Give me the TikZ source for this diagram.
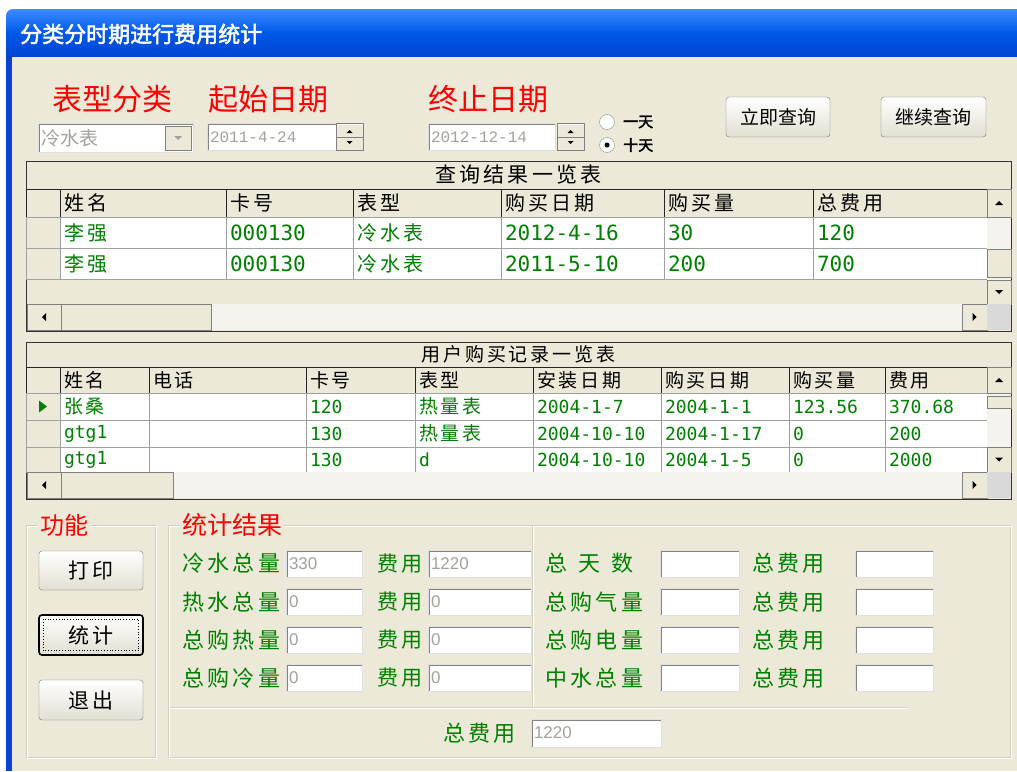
\documentclass[tikz,border=0pt]{standalone}
\usepackage{fontspec}
\usetikzlibrary{positioning}
\newfontfamily\cjk{Noto Sans CJK SC}
\newfontfamily\cjkwide[LetterSpace=15]{Noto Sans CJK SC}
\newfontfamily\cjkbold[FakeBold=2.5]{Noto Sans CJK SC}
\newfontfamily\datefont{Liberation Mono}
\newfontfamily\boxfont{Liberation Sans}
\newfontfamily\numfont{DejaVu Sans Mono}
\definecolor{winbg}{HTML}{ECE9D8}
\definecolor{xptop}{HTML}{3A8CFF}
\definecolor{xpmid}{HTML}{0058EA}
\definecolor{xpbot}{HTML}{0043D2}
\definecolor{xpedge}{HTML}{0A40D6}
\definecolor{okgreen}{RGB}{0,128,0}
\definecolor{offgrey}{HTML}{A3A29A}
\definecolor{gridgrey}{HTML}{A0A0A0}
\definecolor{groupline}{HTML}{D0D0BF}
\definecolor{trackbg}{HTML}{F4F3EE}
\definecolor{fieldedge}{HTML}{85837A}
\definecolor{btnbot}{HTML}{E2DFD2}

\tikzset{
  redlbl/.style={text=red, font=\cjk\fontsize{30}{32}\selectfont, inner sep=0pt, anchor=west},
  grnlbl/.style={text=okgreen, font=\cjkwide\fontsize{22}{24}\selectfont, inner sep=0pt, anchor=west},
  field/.style={fill=white, draw=white!88!black, outer sep=0pt, inner xsep=3pt, inner ysep=0pt,
    text width=#1-6pt, align=left, minimum height=27pt, anchor=west, text=offgrey,
    font=\boxfont\fontsize{17}{18}\selectfont,
    path picture={\draw[fieldedge, line width=3pt] (path picture bounding box.south west) |- (path picture bounding box.north east);}},
  raised/.style={fill=winbg, draw=black!50, outer sep=0pt, inner sep=0pt,
    path picture={\draw[white, line width=2.5pt] (path picture bounding box.south west) |- (path picture bounding box.north east);}},
  track/.style={fill=trackbg, outer sep=0pt, inner sep=0pt},
  xpbtn/.style={rounded corners=3pt, draw=black!55, top color=white, bottom color=btnbot, inner sep=0pt,
    font=\cjk\fontsize{19}{21}\selectfont},
  cell/.style={outer sep=0pt, inner xsep=4pt, inner ysep=0pt, text width=#1-8pt, align=left},
  hcell/.style={cell=#1, draw=black!85, fill=winbg, text=black},
  dcell/.style={cell=#1, draw=gridgrey, fill=white, text=okgreen},
  icell/.style={cell=34pt, draw=gridgrey, fill=winbg},
  numa/.style={font=\numfont\fontsize{21}{22}\selectfont},
  numb/.style={font=\numfont\fontsize{18}{20}\selectfont},
  radio/.style={circle, draw=black!45, fill=white, minimum size=15pt, inner sep=0pt},
  frame/.style={draw=black!80, fill=winbg, inner sep=0pt, outer sep=0pt, anchor=north west}
}

\begin{document}
\begin{tikzpicture}[x=1pt,y=-1pt]
\useasboundingbox (0,0) rectangle (1017,771);
\fill[white] (0,0) rectangle (1017,771);

% window
\shade[top color=xptop, bottom color=xpbot, middle color=xpmid] (6,57) [rounded corners=7pt] -- (6,9) [sharp corners] -- (1017,9) -- (1017,57) -- cycle;
\fill[xpedge] (6,57) rectangle (12,771);
\fill[winbg] (12,57) rectangle (1017,771);
\node (title) [anchor=west, inner sep=0pt, text=white, font=\cjkbold\fontsize{22}{24}\selectfont] at (20,34) {分类分时期进行费用统计};

% query bar
\node (typelbl) [redlbl] at (52,99) {表型分类};
\node (fromlbl) [redlbl] at (208,99) {起始日期};
\node (tolbl) [redlbl] at (428,99) {终止日期};

\node (typebox) [field=155pt, minimum height=29pt, font=\cjk\fontsize{19}{20}\selectfont] at (38,138) {冷水表};
\node (typebtn) [raised, minimum width=26pt, minimum height=24pt, anchor=east] at ([xshift=-2pt]typebox.east) {};
\fill[offgrey] ([xshift=-4pt,yshift=2pt]typebtn.center) -- ([xshift=4pt,yshift=2pt]typebtn.center) -- ([yshift=-2pt]typebtn.center) -- cycle;

\node (fromdate) [field=129pt, font=\datefont\fontsize{16}{18}\selectfont] at (207,137) {2011-4-24};
\node (fromspin) [raised, minimum width=27pt, minimum height=27pt, anchor=west] at (fromdate.east) {};
\draw[black!50] (fromspin.west) -- (fromspin.east);
\fill ([xshift=-3pt,yshift=4pt]fromspin.center) -- ([xshift=3pt,yshift=4pt]fromspin.center) -- ([yshift=7pt]fromspin.center) -- cycle;
\fill ([xshift=-3pt,yshift=-4pt]fromspin.center) -- ([xshift=3pt,yshift=-4pt]fromspin.center) -- ([yshift=-7pt]fromspin.center) -- cycle;

\node (todate) [field=127pt, font=\datefont\fontsize{16}{18}\selectfont] at (428,137) {2012-12-14};
\node (tospin) [raised, minimum width=27pt, minimum height=27pt, anchor=west] at ([xshift=2pt]todate.east) {};
\draw[black!50] (tospin.west) -- (tospin.east);
\fill ([xshift=-3pt,yshift=4pt]tospin.center) -- ([xshift=3pt,yshift=4pt]tospin.center) -- ([yshift=7pt]tospin.center) -- cycle;
\fill ([xshift=-3pt,yshift=-4pt]tospin.center) -- ([xshift=3pt,yshift=-4pt]tospin.center) -- ([yshift=-7pt]tospin.center) -- cycle;

\node (oneday) [radio] at (607,122) {};
\node (tenday) [radio] at (607,145) {};
\fill (tenday.center) circle (2.5pt);
\node (onedaylbl) [anchor=west, inner sep=0pt, font=\cjkbold\fontsize{15}{16}\selectfont] at (623,122) {一天};
\node (tendaylbl) [anchor=west, inner sep=0pt, font=\cjkbold\fontsize{15}{16}\selectfont] at (623,145) {十天};

\node (querynow) [xpbtn, minimum width=104pt, minimum height=40pt] at (778,117) {立即查询};
\node (querymore) [xpbtn, minimum width=105pt, minimum height=40pt] at (933.5,117) {继续查询};

% result table
\node (resframe) [frame, minimum width=985pt, minimum height=170pt] at (26,161) {};
\node (restitle) [frame, minimum width=985pt, minimum height=28pt, font=\cjkwide\fontsize{21}{22}\selectfont] at (26,161) {查询结果一览表};
\begin{scope}[minimum height=28pt, font=\cjkwide\fontsize{20}{22}\selectfont]
\node (rhead0) [hcell=34pt, anchor=north west] at (26,189) {};
\node (rhead1) [hcell=166pt, right=0pt of rhead0] {姓名};
\node (rhead2) [hcell=127pt, right=0pt of rhead1] {卡号};
\node (rhead3) [hcell=148pt, right=0pt of rhead2] {表型};
\node (rhead4) [hcell=163pt, right=0pt of rhead3] {购买日期};
\node (rhead5) [hcell=149pt, right=0pt of rhead4] {购买量};
\node (rhead6) [hcell=174pt, right=0pt of rhead5] {总费用};
\end{scope}
\begin{scope}[minimum height=31pt, font=\cjkwide\fontsize{20}{22}\selectfont]
\node (rfirst0) [icell, anchor=north west] at (26,217) {};
\node (rfirst1) [dcell=166pt, right=0pt of rfirst0] {李强};
\node (rfirst2) [dcell=127pt, numa, right=0pt of rfirst1] {000130};
\node (rfirst3) [dcell=148pt, right=0pt of rfirst2] {冷水表};
\node (rfirst4) [dcell=163pt, numa, right=0pt of rfirst3] {2012-4-16};
\node (rfirst5) [dcell=149pt, numa, right=0pt of rfirst4] {30};
\node (rfirst6) [dcell=174pt, numa, right=0pt of rfirst5] {120};
\node (rsecond0) [icell, anchor=north west] at (26,248) {};
\node (rsecond1) [dcell=166pt, right=0pt of rsecond0] {李强};
\node (rsecond2) [dcell=127pt, numa, right=0pt of rsecond1] {000130};
\node (rsecond3) [dcell=148pt, right=0pt of rsecond2] {冷水表};
\node (rsecond4) [dcell=163pt, numa, right=0pt of rsecond3] {2011-5-10};
\node (rsecond5) [dcell=149pt, numa, right=0pt of rsecond4] {200};
\node (rsecond6) [dcell=174pt, numa, right=0pt of rsecond5] {700};
\end{scope}
\node (resvtrack) [track, minimum width=24pt, minimum height=63pt, anchor=north west] at (987,217) {};
\node (resup) [raised, minimum width=24pt, minimum height=28pt, anchor=north west] at (987,189) {};
\node (resvthumb) [raised, minimum width=24pt, minimum height=28pt, anchor=north west] at (987,249) {};
\node (resdown) [raised, minimum width=24pt, minimum height=24pt, anchor=north west] at (987,280) {};
\node (reshtrack) [track, minimum width=901pt, minimum height=26pt, anchor=north west] at (61,304) {};
\node (resleft) [raised, minimum width=34pt, minimum height=26pt, anchor=north west] at (27,304) {};
\node (reshthumb) [raised, minimum width=150pt, minimum height=26pt, anchor=north west] at (61,304) {};
\node (resright) [raised, minimum width=25pt, minimum height=26pt, anchor=north west] at (962,304) {};
\node (rescorner) [fill=black!15, minimum width=24pt, minimum height=26pt, inner sep=0pt, outer sep=0pt, anchor=north west] at (987,304) {};
\fill ([xshift=-4pt,yshift=-2pt]resup.center) -- ([xshift=4pt,yshift=-2pt]resup.center) -- ([yshift=2pt]resup.center) -- cycle;
\fill ([xshift=-4pt,yshift=2pt]resdown.center) -- ([xshift=4pt,yshift=2pt]resdown.center) -- ([yshift=-2pt]resdown.center) -- cycle;
\fill ([xshift=2pt,yshift=-4pt]resleft.center) -- ([xshift=2pt,yshift=4pt]resleft.center) -- ([xshift=-2pt]resleft.center) -- cycle;
\fill ([xshift=-2pt,yshift=-4pt]resright.center) -- ([xshift=-2pt,yshift=4pt]resright.center) -- ([xshift=2pt]resright.center) -- cycle;

% purchase record table
\node (recframe) [frame, minimum width=985pt, minimum height=157pt] at (26,342) {};
\node (rectitle) [frame, minimum width=985pt, minimum height=25pt, font=\cjkwide\fontsize{19}{20}\selectfont] at (26,342) {用户购买记录一览表};
\begin{scope}[minimum height=26pt, font=\cjkwide\fontsize{19}{21}\selectfont]
\node (phead0) [hcell=34pt, anchor=north west] at (26,367) {};
\node (phead1) [hcell=89pt, right=0pt of phead0] {姓名};
\node (phead2) [hcell=157pt, right=0pt of phead1] {电话};
\node (phead3) [hcell=109pt, right=0pt of phead2] {卡号};
\node (phead4) [hcell=118pt, right=0pt of phead3] {表型};
\node (phead5) [hcell=128pt, right=0pt of phead4] {安装日期};
\node (phead6) [hcell=128pt, right=0pt of phead5] {购买日期};
\node (phead7) [hcell=96pt, right=0pt of phead6] {购买量};
\node (phead8) [hcell=102pt, right=0pt of phead7] {费用};
\end{scope}
\begin{scope}[minimum height=27pt, font=\cjkwide\fontsize{19}{21}\selectfont]
\node (pfirst0) [icell, anchor=north west] at (26,393) {};
\node (pfirst1) [dcell=89pt, right=0pt of pfirst0] {张桑};
\node (pfirst2) [dcell=157pt, right=0pt of pfirst1] {};
\node (pfirst3) [dcell=109pt, numb, right=0pt of pfirst2] {120};
\node (pfirst4) [dcell=118pt, right=0pt of pfirst3] {热量表};
\node (pfirst5) [dcell=128pt, numb, right=0pt of pfirst4] {2004-1-7};
\node (pfirst6) [dcell=128pt, numb, right=0pt of pfirst5] {2004-1-1};
\node (pfirst7) [dcell=96pt, numb, right=0pt of pfirst6] {123.56};
\node (pfirst8) [dcell=102pt, numb, right=0pt of pfirst7] {370.68};
\node (psecond0) [icell, anchor=north west] at (26,420) {};
\node (psecond1) [dcell=89pt, numb, right=0pt of psecond0] {gtg1};
\node (psecond2) [dcell=157pt, right=0pt of psecond1] {};
\node (psecond3) [dcell=109pt, numb, right=0pt of psecond2] {130};
\node (psecond4) [dcell=118pt, right=0pt of psecond3] {热量表};
\node (psecond5) [dcell=128pt, numb, right=0pt of psecond4] {2004-10-10};
\node (psecond6) [dcell=128pt, numb, right=0pt of psecond5] {2004-1-17};
\node (psecond7) [dcell=96pt, numb, right=0pt of psecond6] {0};
\node (psecond8) [dcell=102pt, numb, right=0pt of psecond7] {200};
\end{scope}
\begin{scope}[minimum height=25pt, font=\cjkwide\fontsize{19}{21}\selectfont]
\node (pthird0) [icell, anchor=north west] at (26,447) {};
\node (pthird1) [dcell=89pt, numb, right=0pt of pthird0] {gtg1};
\node (pthird2) [dcell=157pt, right=0pt of pthird1] {};
\node (pthird3) [dcell=109pt, numb, right=0pt of pthird2] {130};
\node (pthird4) [dcell=118pt, numb, right=0pt of pthird3] {d};
\node (pthird5) [dcell=128pt, numb, right=0pt of pthird4] {2004-10-10};
\node (pthird6) [dcell=128pt, numb, right=0pt of pthird5] {2004-1-5};
\node (pthird7) [dcell=96pt, numb, right=0pt of pthird6] {0};
\node (pthird8) [dcell=102pt, numb, right=0pt of pthird7] {2000};
\end{scope}
\fill[okgreen] ([xshift=-4pt,yshift=-6pt]pfirst0.center) -- ([xshift=-4pt,yshift=6pt]pfirst0.center) -- ([xshift=4pt]pfirst0.center) -- cycle;
\node (recvtrack) [track, minimum width=24pt, minimum height=54pt, anchor=north west] at (987,393) {};
\node (recup) [raised, minimum width=24pt, minimum height=26pt, anchor=north west] at (987,367) {};
\node (recvthumb) [raised, minimum width=24pt, minimum height=12pt, anchor=north west] at (987,396) {};
\node (recdown) [raised, minimum width=24pt, minimum height=25pt, anchor=north west] at (987,447) {};
\node (rechtrack) [track, minimum width=901pt, minimum height=26pt, anchor=north west] at (61,472) {};
\node (recleft) [raised, minimum width=34pt, minimum height=26pt, anchor=north west] at (27,472) {};
\node (rechthumb) [raised, minimum width=112pt, minimum height=26pt, anchor=north west] at (61,472) {};
\node (recright) [raised, minimum width=25pt, minimum height=26pt, anchor=north west] at (962,472) {};
\node (reccorner) [fill=black!15, minimum width=24pt, minimum height=26pt, inner sep=0pt, outer sep=0pt, anchor=north west] at (987,472) {};
\fill ([xshift=-4pt,yshift=-2pt]recup.center) -- ([xshift=4pt,yshift=-2pt]recup.center) -- ([yshift=2pt]recup.center) -- cycle;
\fill ([xshift=-4pt,yshift=2pt]recdown.center) -- ([xshift=4pt,yshift=2pt]recdown.center) -- ([yshift=-2pt]recdown.center) -- cycle;
\fill ([xshift=2pt,yshift=-4pt]recleft.center) -- ([xshift=2pt,yshift=4pt]recleft.center) -- ([xshift=-2pt]recleft.center) -- cycle;
\fill ([xshift=-2pt,yshift=-4pt]recright.center) -- ([xshift=-2pt,yshift=4pt]recright.center) -- ([xshift=2pt]recright.center) -- cycle;

% function group
\draw[groupline] (26,525) rectangle (155,757);
\draw[white] (27,526) rectangle (156,758);
\node (funclbl) [anchor=west, fill=winbg, text=red, inner xsep=2pt, inner ysep=0pt, font=\cjk\fontsize{24}{26}\selectfont] at (38,525) {功能};
\node (printbtn) [xpbtn, minimum width=104pt, minimum height=39pt, font=\cjkwide\fontsize{21}{23}\selectfont] at (91,570.5) {打印};
\node (statbtn) [xpbtn, draw=black, line width=1.6pt, minimum width=104pt, minimum height=40pt, font=\cjkwide\fontsize{21}{23}\selectfont] at (91,635) {统计};
\draw[dotted, line width=0.8pt] ([xshift=5pt,yshift=-5pt]statbtn.north west) rectangle ([xshift=-5pt,yshift=5pt]statbtn.south east);
\node (exitbtn) [xpbtn, minimum width=104pt, minimum height=40pt, font=\cjkwide\fontsize{21}{23}\selectfont] at (91,700) {退出};

% statistics group
\draw[groupline] (168,525) rectangle (1010,757);
\draw[white] (169,526) rectangle (1011,758);
\draw[groupline] (532,525) -- (532,707);
\draw[white] (533,526) -- (533,707);
\draw[groupline] (170,707) -- (907,707);
\draw[white] (170,708) -- (907,708);
\node (statlbl) [anchor=west, fill=winbg, text=red, inner xsep=2pt, inner ysep=0pt, font=\cjk\fontsize{25}{27}\selectfont] at (180,525) {统计结果};

\node (coldqty) [grnlbl] at (182,563.5) {冷水总量};
\node (coldqtybox) [field=76pt] at (286,563.5) {330};
\node (coldfee) [grnlbl, font=\cjkwide\fontsize{21}{23}\selectfont] at (377,563.5) {费用};
\node (coldfeebox) [field=103pt] at (428,563.5) {1220};
\node (days) [grnlbl] at (545,563.5) {总\hspace{11pt}天\hspace{11pt}数};
\node (daysbox) [field=79pt] at (660,563.5) {};
\node (daysfee) [grnlbl] at (752,563.5) {总费用};
\node (daysfeebox) [field=78pt] at (855,563.5) {};

\node (hotqty) [grnlbl] at (182,602) {热水总量};
\node (hotqtybox) [field=76pt] at (286,602) {0};
\node (hotfee) [grnlbl, font=\cjkwide\fontsize{21}{23}\selectfont] at (377,602) {费用};
\node (hotfeebox) [field=103pt] at (428,602) {0};
\node (gasqty) [grnlbl] at (545,602) {总购气量};
\node (gasqtybox) [field=79pt] at (660,602) {};
\node (gasfee) [grnlbl] at (752,602) {总费用};
\node (gasfeebox) [field=78pt] at (855,602) {};

\node (heatqty) [grnlbl] at (182,640) {总购热量};
\node (heatqtybox) [field=76pt] at (286,640) {0};
\node (heatfee) [grnlbl, font=\cjkwide\fontsize{21}{23}\selectfont] at (377,640) {费用};
\node (heatfeebox) [field=103pt] at (428,640) {0};
\node (powerqty) [grnlbl] at (545,640) {总购电量};
\node (powerqtybox) [field=79pt] at (660,640) {};
\node (powerfee) [grnlbl] at (752,640) {总费用};
\node (powerfeebox) [field=78pt] at (855,640) {};

\node (coolqty) [grnlbl] at (182,678) {总购冷量};
\node (coolqtybox) [field=76pt] at (286,678) {0};
\node (coolfee) [grnlbl, font=\cjkwide\fontsize{21}{23}\selectfont] at (377,678) {费用};
\node (coolfeebox) [field=103pt] at (428,678) {0};
\node (reuseqty) [grnlbl] at (545,678) {中水总量};
\node (reuseqtybox) [field=79pt] at (660,678) {};
\node (reusefee) [grnlbl] at (752,678) {总费用};
\node (reusefeebox) [field=78pt] at (855,678) {};

\node (grandfee) [grnlbl] at (443,733) {总费用};
\node (grandfeebox) [field=130pt, minimum height=28pt] at (531,733) {1220};
\end{tikzpicture}
\end{document}
